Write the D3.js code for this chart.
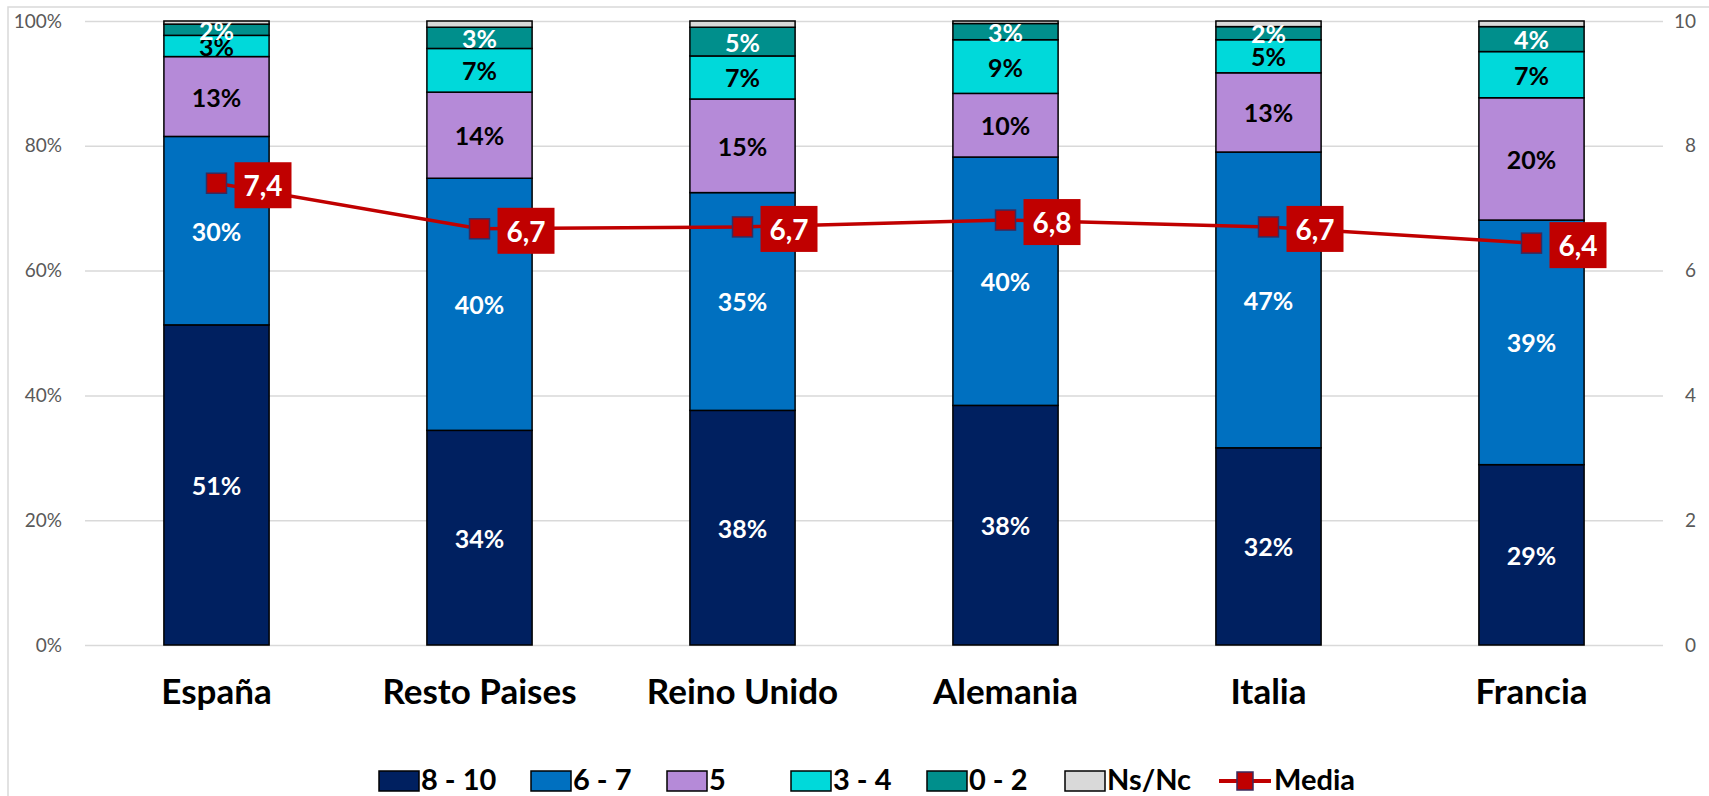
<!DOCTYPE html>
<html>
<head>
<meta charset="utf-8">
<script src="https://cdn.jsdelivr.net/npm/d3@7"></script>
<style>
  body { margin: 0; background: #fff; }
  svg { display: block; font-family: Lato, "Open Sans", sans-serif; }
</style>
</head>
<body>
<svg id="chart" width="1709" height="796"></svg>
<script>
// categories along the x axis
const countries = ['España', 'Resto Paises', 'Reino Unido', 'Alemania', 'Italia', 'Francia'];

// score bands, bottom to top of each stack
const bands = ['8 - 10', '6 - 7', '5', '3 - 4', '0 - 2', 'Ns/Nc'];

// share of answers per band (percent), one array per band, in country order
const band810 = [51.3, 34.4, 37.6, 38.4, 31.6, 28.9];
const band67  = [30.2, 40.4, 34.9, 39.8, 47.4, 39.2];
const band5   = [12.8, 13.8, 15.0, 10.2, 12.7, 19.6];
const band34  = [3.4, 7.0, 6.9, 8.6, 5.3, 7.4];
const band02  = [1.8, 3.4, 4.6, 2.6, 2.1, 4.0];
const bandNs  = [0.5, 1.0, 1.0, 0.4, 0.9, 0.9];

// average score (right axis, 0-10)
const media = [7.4, 6.67, 6.7, 6.81, 6.7, 6.44];

const leftTicks = [0, 20, 40, 60, 80, 100];
const rightTicks = [0, 2, 4, 6, 8, 10];

const colors = ['#002060', '#0070c0', '#b58ad8', '#00d9da', '#008f8c', '#d9d9d9'];
const labelColors = ['#fff', '#fff', '#000', '#000', '#fff', null];
const lineColor = '#c00000';

const svg = d3.select('#chart');
const plotLeft = 85, plotRight = 1663, plotTop = 21, plotBottom = 645;

// outer chart border (only top/left visible in the frame)
svg.append('rect')
    .attr('x', 8).attr('y', 7)
    .attr('width', 1720).attr('height', 820)
    .attr('fill', 'none')
    .attr('stroke', '#d9d9d9')
    .attr('stroke-width', 1.5);

const x = d3.scaleBand()
    .domain(countries)
    .range([plotLeft, plotRight])
    .paddingInner(0.6)
    .paddingOuter(0.3);

const y = d3.scaleLinear().domain([0, 100]).range([plotBottom, plotTop]);
const y2 = d3.scaleLinear().domain([0, 10]).range([plotBottom, plotTop]);

// gridlines + left axis
const yAxis = d3.axisLeft(y)
    .tickValues(leftTicks)
    .tickFormat(d => d + '%')
    .tickSize(-(plotRight - plotLeft))
    .tickPadding(23);

const gy = svg.append('g')
    .attr('transform', `translate(${plotLeft},0)`)
    .call(yAxis);
gy.select('.domain').remove();
gy.selectAll('.tick line').attr('stroke', '#d9d9d9').attr('stroke-width', 1.5);
gy.selectAll('.tick text')
    .attr('fill', '#595959')
    .style('font-family', 'Lato, sans-serif')
    .style('font-size', '19px');

// right axis
const gy2 = svg.append('g')
    .attr('transform', `translate(${plotRight},0)`)
    .call(d3.axisRight(y2).tickValues(rightTicks).tickSize(0).tickPadding(33));
gy2.select('.domain').remove();
gy2.selectAll('.tick text')
    .attr('fill', '#595959')
    .attr('text-anchor', 'end')
    .style('font-family', 'Lato, sans-serif')
    .style('font-size', '19px');

// stacked data
const rows = countries.map((c, i) => ({
    country: c,
    '8 - 10': band810[i], '6 - 7': band67[i], '5': band5[i],
    '3 - 4': band34[i], '0 - 2': band02[i], 'Ns/Nc': bandNs[i]
}));
const series = d3.stack().keys(bands)(rows);

const layers = svg.append('g').selectAll('g')
    .data(series)
    .join('g')
    .attr('fill', (d, i) => colors[i]);

layers.selectAll('rect')
    .data(d => d)
    .join('rect')
    .attr('x', d => x(d.data.country))
    .attr('width', x.bandwidth())
    .attr('y', d => y(d[1]))
    .attr('height', d => y(d[0]) - y(d[1]))
    .attr('stroke', '#000')
    .attr('stroke-width', 1.5);

// segment labels
series.forEach((s, i) => {
    if (!labelColors[i]) return;
    svg.append('g').selectAll('text')
        .data(s)
        .join('text')
        .attr('x', d => x(d.data.country) + x.bandwidth() / 2)
        .attr('y', d => y((d[0] + d[1]) / 2))
        .attr('text-anchor', 'middle')
        .attr('dominant-baseline', 'central')
        .attr('fill', labelColors[i])
        .style('font-size', '25px')
        .style('font-weight', 'bold')
        .text(d => Math.round(d[1] - d[0]) + '%');
});

// category labels
svg.append('g').selectAll('text')
    .data(countries)
    .join('text')
    .attr('x', d => x(d) + x.bandwidth() / 2)
    .attr('y', 704)
    .attr('text-anchor', 'middle')
    .style('font-size', '35px')
    .style('font-weight', 'bold')
    .attr('fill', '#000')
    .text(d => d);

// media line
const cx = (d, i) => x(countries[i]) + x.bandwidth() / 2;
svg.append('path')
    .datum(media)
    .attr('fill', 'none')
    .attr('stroke', lineColor)
    .attr('stroke-width', 3.5)
    .attr('d', d3.line().x(cx).y(d => y2(d)));

svg.append('g').selectAll('rect')
    .data(media)
    .join('rect')
    .attr('x', (d, i) => cx(d, i) - 10)
    .attr('y', d => y2(d) - 10)
    .attr('width', 20).attr('height', 20)
    .attr('fill', lineColor)
    .attr('stroke', '#3b2a5c')
    .attr('stroke-width', 1.5);

const fmt = d => d.toFixed(1).replace('.', ',');
const tags = svg.append('g').selectAll('g')
    .data(media)
    .join('g')
    .attr('transform', (d, i) => `translate(${cx(d, i) + 18},${y2(d) + 2})`);
tags.append('rect')
    .attr('x', 0).attr('y', -23)
    .attr('width', 57).attr('height', 46)
    .attr('fill', lineColor);
tags.append('text')
    .attr('x', 28.5).attr('y', 0)
    .attr('text-anchor', 'middle')
    .attr('dominant-baseline', 'central')
    .attr('fill', '#fff')
    .style('font-size', '28px')
    .style('font-weight', 'bold')
    .text(fmt);

// legend
const legendX = [379, 531, 667, 791, 927, 1065];
const legend = svg.append('g').selectAll('g')
    .data(bands)
    .join('g')
    .attr('transform', (d, i) => `translate(${legendX[i]},771)`);
legend.append('rect')
    .attr('width', 40).attr('height', 20)
    .attr('fill', (d, i) => colors[i])
    .attr('stroke', '#000')
    .attr('stroke-width', 1.5);
legend.append('text')
    .attr('x', 42).attr('y', 19)
    .style('font-size', '29px')
    .style('font-weight', 'bold')
    .text(d => d);

const ml = svg.append('g').attr('transform', 'translate(1219,781)');
ml.append('line')
    .attr('x1', 0).attr('x2', 52)
    .attr('stroke', lineColor).attr('stroke-width', 4);
ml.append('rect')
    .attr('x', 18).attr('y', -9)
    .attr('width', 16).attr('height', 18)
    .attr('fill', lineColor)
    .attr('stroke', '#3b2a5c').attr('stroke-width', 1.5);
ml.append('text')
    .attr('x', 55).attr('y', 9)
    .style('font-size', '29px')
    .style('font-weight', 'bold')
    .text('Media');
</script>
</body>
</html>
